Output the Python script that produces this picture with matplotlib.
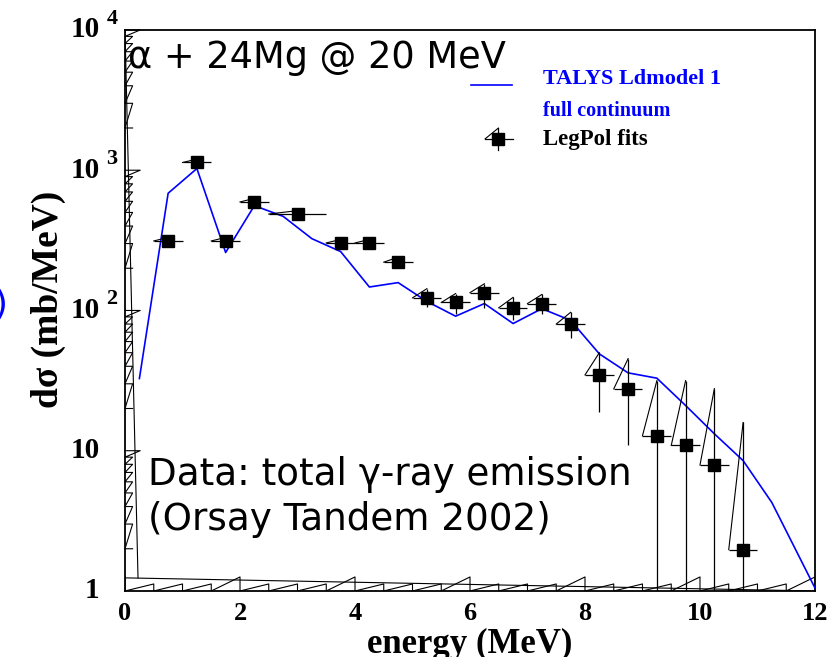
import numpy as np
import matplotlib
matplotlib.use("Agg")
import matplotlib.pyplot as plt
from matplotlib.transforms import blended_transform_factory

# LegPol fit points (total gamma-ray emission)
x_data = [0.75, 1.25, 1.75, 2.25, 3.0, 3.75, 4.25, 4.75, 5.25, 5.75,
          6.25, 6.75, 7.25, 7.75, 8.25, 8.75, 9.25, 9.75, 10.25, 10.75]
x_err = [0.25, 0.25, 0.25, 0.25, 0.5, 0.25, 0.25, 0.25, 0.25, 0.25,
         0.25, 0.25, 0.25, 0.25, 0.25, 0.25, 0.25, 0.25, 0.25, 0.25]
y_data = [313, 1135, 313, 594, 487, 303, 303, 221, 123, 114,
          134, 104.5, 112, 80, 34.7, 27.6, 12.8, 10.9, 7.9, 1.97]
y_hi = [332, 1200, 332, 630, 515, 321, 321, 240, 143, 132,
        155, 124, 130, 97, 50, 45.4, 31.6, 31.6, 27.7, 15.9]
y_lo = [295, 1070, 295, 560, 460, 286, 286, 204, 105, 95,
        104, 85, 94, 64, 18.8, 10.9, 0.5, 0.5, 0.5, 0.5]

# TALYS Ldmodel 1, full continuum
x_model = [0.25, 0.75, 1.25, 1.75, 2.25, 2.75, 3.25, 3.75, 4.25, 4.75, 5.25, 5.75,
           6.25, 6.75, 7.25, 7.75, 8.25, 8.75, 9.25, 9.75, 10.25, 10.75, 11.25, 12.0]
y_model = [32.7, 685, 1028, 259, 559, 469, 325, 263, 147, 158, 116, 91,
           112, 80.7, 103, 85, 49, 35.9, 32.9, 21, 13.2, 8.5, 4.27, 1.05]

y_decades = [1, 10, 100, 1000, 10000]
y_exps = ['', '', '2', '3', '4']
x_ticks = [0, 2, 4, 6, 8, 10, 12]

serif = 'Liberation Serif'

fig = plt.figure(figsize=(8.34, 6.57), dpi=100)
ax = fig.add_axes([0.1499, 0.1005, 0.8273, 0.8539])
ax.set_yscale('log')
ax.set_xlim(0, 12)
ax.set_ylim(1, 1e4)
ax.yaxis.set_major_locator(matplotlib.ticker.NullLocator())
ax.yaxis.set_minor_locator(matplotlib.ticker.NullLocator())
ax.set_xticks(x_ticks)
ax.set_xticklabels([str(t) for t in x_ticks], fontsize=19, fontweight='bold', family=serif)
ax.tick_params(which='both', length=0, pad=8)
for s in ax.spines.values():
    s.set_linewidth(1.3)

# model curve
ax.plot(x_model, y_model, color='blue', lw=1.2, zorder=3)

# data with error bars
x_arr = np.array(x_data)
y_arr = np.array(y_data)
yerr = [y_arr - np.array(y_lo), np.array(y_hi) - y_arr]
ax.errorbar(x_arr, y_arr, xerr=x_err, yerr=yerr, fmt='s', color='black',
            ms=9, elinewidth=0.9, capsize=0, zorder=4)
# the odd triangle artefacts of the original drawing
for xi, xe, yi, yh in zip(x_data, x_err, y_data, y_hi):
    ax.plot([xi - xe, xi], [yi, yh], color='black', lw=0.8, zorder=4)

# sawtooth tick artefacts
ty = blended_transform_factory(ax.transAxes, ax.transData)
for d in y_decades[1:]:
    vals = [d] + [k * d / 10 for k in range(9, 1, -1)]
    px, py = [], []
    for i, v in enumerate(vals):
        px += [0, 0.022 if i == 0 else 0.011]
        py += [v, v]
    ax.plot(px, py, color='black', lw=0.8, transform=ty, clip_on=False)
tx = blended_transform_factory(ax.transData, ax.transAxes)
xs = np.arange(0, 12.01, 0.5)
px, py = [], []
for v in xs:
    h = 0.025 if v % 2 == 0 else 0.0125
    px += [v, v]
    py += [h, 0]
ax.plot(px, py, color='black', lw=0.8, transform=tx)
ax.plot([0, 0.226], [1e4, 1.24], color='black', lw=0.8)
ax.plot([0, 12], [1.24, 1.0], color='black', lw=0.8)

# y tick labels in ROOT style
for d, e in zip(y_decades, y_exps):
    ax.text(-0.037, d, '1' if d == 1 else '10', transform=ty, ha='right', va='center',
            fontsize=21, fontweight='bold', family=serif)
    if e:
        ax.text(-0.027, d * 1.2, e, transform=ty, ha='left', va='center',
                fontsize=16, fontweight='bold', family=serif)

# annotations
ax.text(0.004, 0.932, 'α + 24Mg @ 20 MeV', transform=ax.transAxes,
        fontsize=26.5, family='DejaVu Sans', va='baseline')
ax.text(0.033, 0.189, 'Data: total γ-ray emission', transform=ax.transAxes,
        fontsize=26.8, family='DejaVu Sans', va='baseline')
ax.text(0.033, 0.109, '(Orsay Tandem 2002)', transform=ax.transAxes,
        fontsize=26.8, family='DejaVu Sans', va='baseline')

# legend
ax.plot([0.501, 0.561], [0.902, 0.902], color='blue', lw=1.2, transform=ax.transAxes)
ax.text(0.606, 0.912, 'TALYS Ldmodel 1', transform=ax.transAxes, color='blue',
        fontsize=16, fontweight='bold', family=serif, va='center')
ax.text(0.606, 0.855, 'full continuum', transform=ax.transAxes, color='blue',
        fontsize=14.5, fontweight='bold', family=serif, va='center')
ax.text(0.606, 0.804, 'LegPol fits', transform=ax.transAxes, color='black',
        fontsize=16.5, fontweight='bold', family=serif, va='center')
ax.plot([0.522, 0.563], [0.806, 0.806], color='black', lw=0.9, transform=ax.transAxes)
ax.plot([0.541, 0.541], [0.786, 0.825], color='black', lw=0.9, transform=ax.transAxes)
ax.plot([0.522, 0.541], [0.806, 0.825], color='black', lw=0.8, transform=ax.transAxes)
ax.plot([0.541], [0.806], 's', color='black', ms=9, transform=ax.transAxes)

# axis titles
fig.text(470 / 834, 4 / 657, 'energy (MeV)', ha='center', va='baseline',
         fontsize=25, fontweight='bold', family=serif)
fig.text(48 / 834, 1 - 299 / 657, 'dσ (mb/MeV)', ha='center', va='center', rotation=90,
         fontsize=27, fontweight='bold', family=serif)
fig.text(7 / 834, 1 - 305 / 657, ')', ha='right', va='center', color='blue', fontsize=26)

fig.savefig('out.png', dpi=100)
